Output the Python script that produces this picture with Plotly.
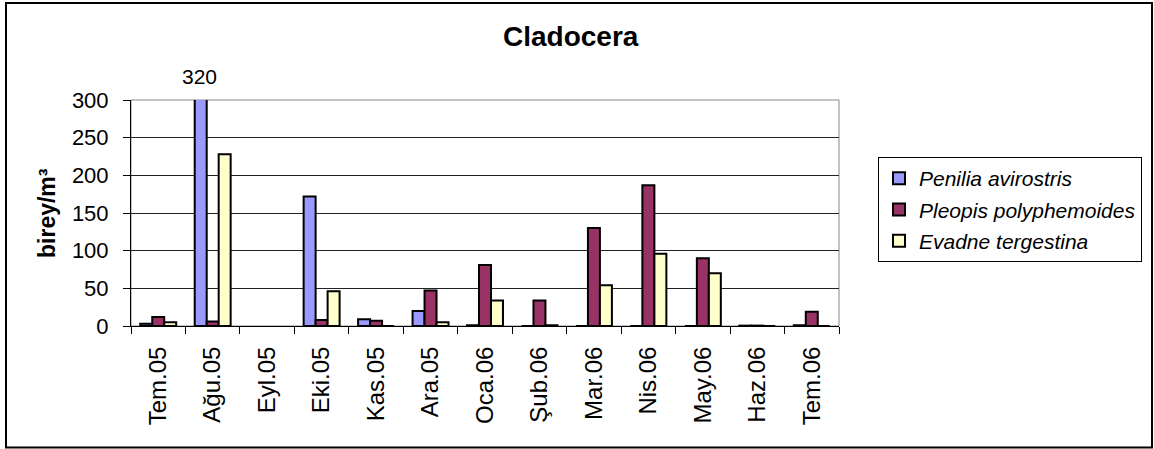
import plotly.graph_objects as go

# Monthly sampling periods
months = ["Tem.05", "Ağu.05", "Eyl.05", "Eki.05", "Kas.05", "Ara.05", "Oca.06",
          "Şub.06", "Mar.06", "Nis.06", "May.06", "Haz.06", "Tem.06"]

# Abundance (birey/m³) per species; None = no sample that month
penilia = [3, 320, None, 172, 9, 20, 1, 0, 0, 0, 0, 0.5, 1]
pleopis = [12, 6, None, 8, 7, 47, 81, 34, 130, 187, 90, 0.5, 19]
evadne = [5, 228, None, 46, 0, 5, 34, 1, 54, 96, 70, 0, 0]

y_ticks = [0, 50, 100, 150, 200, 250, 300]

series = [
    ("Penilia avirostris", penilia, "#9999FF"),
    ("Pleopis polyphemoides", pleopis, "#993366"),
    ("Evadne tergestina", evadne, "#FFFFCC"),
]

FONT = "Liberation Sans, Arial, sans-serif"

fig = go.Figure()
for name, vals, color in series:
    fig.add_trace(go.Bar(
        x=months, y=vals, name=f"<i>{name}</i>", legendgroup=name,
        marker=dict(color=color, line=dict(color="black", width=2)),
    ))

# plot area occupies pixels x 131..839, y 100..326
L, R, T, B = 131, 839, 100, 326
W, H = 1154, 449
pw, ph = R - L, B - T

def px(x):
    return (x - L) / pw

def py(y):
    return (B - y) / ph

fig.update_layout(
    width=W, height=H,
    margin=dict(l=L, r=W - R, t=T, b=H - B, pad=0),
    paper_bgcolor="white", plot_bgcolor="white",
    font=dict(family=FONT, color="black", size=22),
    barmode="group", bargap=0.34, bargroupgap=0,
    showlegend=True,
    legend=dict(
        x=px(878), y=py(157), xanchor="left", yanchor="top",
        bordercolor="black", borderwidth=1, bgcolor="white",
        font=dict(size=21), tracegroupgap=1, itemsizing="constant",
    ),
    xaxis=dict(
        type="category", showline=True, linecolor="black", linewidth=1,
        ticks="outside", ticklen=7, tickcolor="black", tickson="boundaries",
        tickangle=-90, tickfont=dict(size=24), showgrid=False,
        ticklabelstandoff=10,
    ),
    yaxis=dict(
        range=[0, 300], tickvals=y_ticks,
        showline=True, linecolor="black", linewidth=1,
        ticks="outside", ticklen=7, tickcolor="black",
        showgrid=True, gridcolor="#222", gridwidth=1,
        tickfont=dict(size=22), zeroline=False, ticklabelstandoff=10,
    ),
    shapes=[
        # plot area frame
        dict(type="rect", xref="paper", yref="paper", x0=0, x1=1, y0=0, y1=1,
             line=dict(color="#888", width=1), layer="below"),
        # chart border
        dict(type="rect", xref="paper", yref="paper",
             x0=px(6), x1=px(1152), y0=py(447.5), y1=py(3),
             line=dict(color="black", width=2)),
    ],
    annotations=[
        dict(text="<b>Cladocera</b>", xref="paper", yref="paper",
             x=px(571), y=py(37), showarrow=False, font=dict(size=28),
             xanchor="center", yanchor="middle"),
        dict(text="<b>birey/m³</b>", xref="paper", yref="paper",
             x=px(47), y=py(213), showarrow=False, font=dict(size=23),
             textangle=-90, xanchor="center", yanchor="middle"),
        dict(text=str(penilia[1]), x=months[1], y=300, xref="x", yref="y",
             xshift=-13, yshift=10, yanchor="bottom", showarrow=False,
             font=dict(size=21)),
    ],
)

fig.write_html("out.html")
